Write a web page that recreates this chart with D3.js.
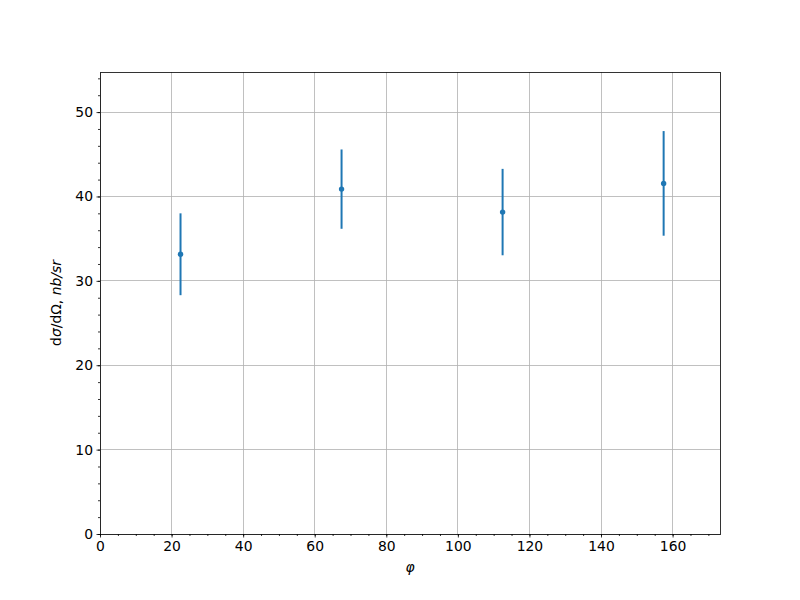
<!DOCTYPE html>
<html><head><meta charset="utf-8">
<script src="https://cdn.jsdelivr.net/npm/d3@7"></script>
<style>body{margin:0;background:#fff}svg{display:block}text{font-family:"DejaVu Sans",sans-serif}</style>
</head><body><div id="c"></div>
<script>
const phi = [22.5, 67.5, 112.5, 157.5];
const xsec = [33.15, 40.87, 38.15, 41.55];
const err = [4.85, 4.7, 5.12, 6.2];
const xTicks = [0, 20, 40, 60, 80, 100, 120, 140, 160];
const yTicks = [0, 10, 20, 30, 40, 50];
const xDomain = [0, 173.25];
const yDomain = [0, 54.75];

const W = 800, H = 600;
const m = {l: 100, r: 80, t: 72, b: 66};
const svg = d3.select("#c").append("svg").attr("width", W).attr("height", H);
const x = d3.scaleLinear().domain(xDomain).range([m.l, W - m.r]);
const y = d3.scaleLinear().domain(yDomain).range([H - m.b, m.t]);
const color = "#1f77b4";

// grid
const g = svg.append("g");
g.selectAll(".vx").data(xTicks).join("line")
  .attr("x1", d => x(d)).attr("x2", d => x(d)).attr("y1", y(yDomain[0])).attr("y2", y(yDomain[1]))
  .attr("stroke", "#b0b0b0").attr("stroke-width", 0.8).attr("shape-rendering", "crispEdges");
g.selectAll(".hy").data(yTicks).join("line")
  .attr("y1", d => y(d)).attr("y2", d => y(d)).attr("x1", x(xDomain[0])).attr("x2", x(xDomain[1]))
  .attr("stroke", "#b0b0b0").attr("stroke-width", 0.8).attr("shape-rendering", "crispEdges");

// axes
const xMinor = d3.range(0, 173, 5);
const yMinor = d3.range(0, 54.75, 2);
const xAx = svg.append("g").attr("transform", `translate(0,${H - m.b})`);
xAx.call(d3.axisBottom(x).tickValues(xMinor).tickSize(2).tickFormat(""));
xAx.append("g").call(d3.axisBottom(x).tickValues(xTicks).tickSize(3.5).tickPadding(3.5).tickFormat(d3.format("d")));
const yAx = svg.append("g").attr("transform", `translate(${m.l},0)`);
yAx.call(d3.axisLeft(y).tickValues(yMinor).tickSize(2).tickFormat(""));
yAx.append("g").call(d3.axisLeft(y).tickValues(yTicks).tickSize(3.5).tickPadding(3.5).tickFormat(d3.format("d")));
svg.selectAll(".domain").remove();
svg.selectAll(".tick line").attr("stroke", "#000").attr("stroke-width", 0.8);
svg.selectAll(".tick text").attr("font-size", "13.9px").attr("fill", "#000").attr("font-family", "DejaVu Sans");

// frame
svg.append("rect").attr("x", x(xDomain[0])).attr("y", y(yDomain[1]))
  .attr("width", x(xDomain[1]) - x(xDomain[0])).attr("height", y(yDomain[0]) - y(yDomain[1]))
  .attr("fill", "none").attr("stroke", "#000").attr("stroke-width", 0.8).attr("shape-rendering", "crispEdges");

// error bars
const data = phi.map((p, i) => ({p, v: xsec[i], e: err[i]}));
svg.selectAll(".eb").data(data).join("line")
  .attr("x1", d => x(d.p)).attr("x2", d => x(d.p))
  .attr("y1", d => y(d.v - d.e)).attr("y2", d => y(d.v + d.e))
  .attr("stroke", color).attr("stroke-width", 2);
svg.selectAll(".pt").data(data).join("circle")
  .attr("cx", d => x(d.p)).attr("cy", d => y(d.v)).attr("r", 2.7).attr("fill", color);

// labels
svg.append("text").attr("x", (x(xDomain[0]) + x(xDomain[1])) / 2).attr("y", 572)
  .attr("text-anchor", "middle").attr("font-size", "13.9px").attr("font-style", "italic").text("φ");
const yl = svg.append("text").attr("transform", `translate(61,${(y(yDomain[0]) + y(yDomain[1])) / 2}) rotate(-90)`)
  .attr("text-anchor", "middle").attr("font-size", "13.9px");
yl.append("tspan").text("d");
yl.append("tspan").attr("font-style", "italic").text("σ");
yl.append("tspan").text("/dΩ, ");
yl.append("tspan").attr("font-style", "italic").text("nb/sr");
</script></body></html>
